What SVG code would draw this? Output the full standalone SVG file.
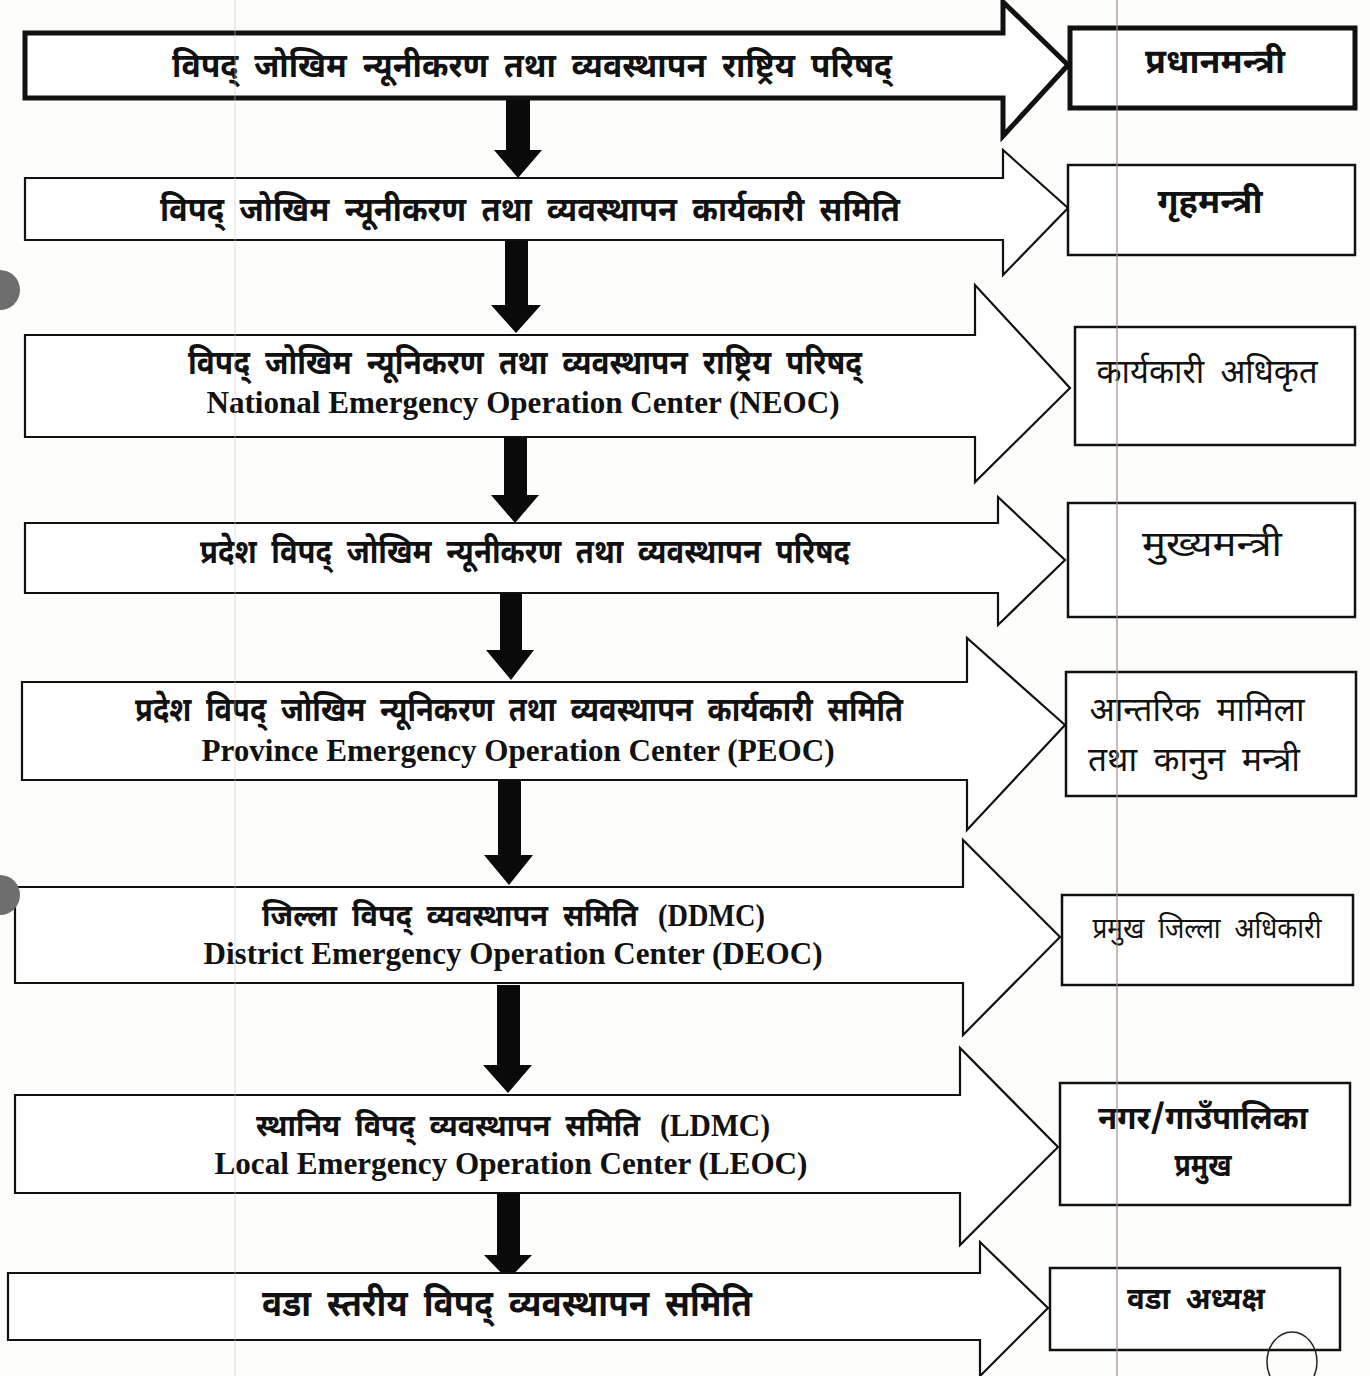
<svg xmlns="http://www.w3.org/2000/svg" width="1370" height="1376" viewBox="0 0 1370 1376">
<style>
.bg{fill:#fdfdfc}
.arr{fill:#fff;stroke:#111;stroke-width:2.2;stroke-linejoin:miter}
.arr.thick{stroke-width:5}
.box{fill:#fff;stroke:#111;stroke-width:2.5}
.box.thick{stroke-width:5}
.dv{font-family:"Noto Sans Devanagari","Noto Serif Devanagari","Lohit Devanagari","Noto Sans","Liberation Serif",serif;fill:#111;text-anchor:middle;word-spacing:8px}
.b{font-weight:bold}
.en{font-family:"Liberation Serif","Times New Roman",serif;font-weight:bold;fill:#111;text-anchor:middle;font-size:31px}
.ab{font-family:"Liberation Serif","Times New Roman",serif;font-weight:bold;fill:#111;font-size:31px}
.down{fill:#0a0a0a}
</style>
<rect class="bg" x="0" y="0" width="1370" height="1376"/>

<g id="connectors">
  <polygon class="down" points="506,98 530,98 530,150 542,150 518,178 494,150 506,150"/>
  <polygon class="down" points="505,240 528,240 528,305 541,305 516,333 491,305 505,305"/>
  <polygon class="down" points="504,437 527,437 527,495 539,495 515,523 491,495 504,495"/>
  <polygon class="down" points="500,593 522,593 522,650 534,650 511,680 486,650 500,650"/>
  <polygon class="down" points="498,780 521,780 521,855 533,855 509,885 484,855 498,855"/>
  <polygon class="down" points="497,985 520,985 520,1065 532,1065 508,1093 483,1065 497,1065"/>
  <polygon class="down" points="497,1193 520,1193 520,1255 532,1255 508,1280 484,1255 497,1255"/>
</g>

<g id="row1">
  <polygon class="arr thick" points="25,33 1003,33 1003,2 1068,65 1003,136 1003,98 25,98"/>
  <text class="dv b" x="532" y="77" font-size="34" textLength="720" lengthAdjust="spacingAndGlyphs">विपद् जोखिम न्यूनीकरण तथा व्यवस्थापन राष्ट्रिय परिषद्</text>
</g>
<g id="box1">
  <rect class="box thick" x="1070" y="28" width="285" height="80"/>
  <text class="dv b" x="1215" y="73" font-size="34" textLength="140" lengthAdjust="spacingAndGlyphs">प्रधानमन्त्री</text>
</g>

<g id="row2">
  <polygon class="arr" points="25,178 1003,178 1003,150 1068,208 1003,275 1003,240 25,240"/>
  <text class="dv b" x="530" y="221" font-size="34" textLength="740" lengthAdjust="spacingAndGlyphs">विपद् जोखिम न्यूनीकरण तथा व्यवस्थापन कार्यकारी समिति</text>
</g>
<g id="box2">
  <rect class="box" x="1068" y="165" width="287" height="90"/>
  <text class="dv b" x="1210" y="213" font-size="34" textLength="105" lengthAdjust="spacingAndGlyphs">गृहमन्त्री</text>
</g>

<g id="row3">
  <polygon class="arr" points="25,335 975,335 975,285 1070,388 975,482 975,437 25,437"/>
  <text class="dv b" x="525" y="374" font-size="33" textLength="674" lengthAdjust="spacingAndGlyphs">विपद् जोखिम न्यूनिकरण तथा व्यवस्थापन राष्ट्रिय परिषद्</text>
  <text class="en" x="523" y="413" textLength="633" lengthAdjust="spacingAndGlyphs">National Emergency Operation Center (NEOC)</text>
</g>
<g id="box3">
  <rect class="box" x="1075" y="327" width="280" height="118"/>
  <text class="dv" x="1207" y="383" font-size="34" textLength="221" lengthAdjust="spacingAndGlyphs">कार्यकारी अधिकृत</text>
</g>

<g id="row4">
  <polygon class="arr" points="25,523 998,523 998,497 1065,560 998,625 998,593 25,593"/>
  <text class="dv b" x="525" y="563" font-size="33" textLength="650" lengthAdjust="spacingAndGlyphs">प्रदेश विपद् जोखिम न्यूनीकरण तथा व्यवस्थापन परिषद</text>
</g>
<g id="box4">
  <rect class="box" x="1068" y="503" width="287" height="114"/>
  <text class="dv" x="1212" y="556" font-size="35" textLength="140" lengthAdjust="spacingAndGlyphs">मुख्यमन्त्री</text>
</g>

<g id="row5">
  <polygon class="arr" points="22,682 967,682 967,638 1065,725 967,830 967,780 22,780"/>
  <text class="dv b" x="519" y="721" font-size="33" textLength="768" lengthAdjust="spacingAndGlyphs">प्रदेश विपद् जोखिम न्यूनिकरण तथा व्यवस्थापन कार्यकारी समिति</text>
  <text class="en" x="518" y="761" textLength="633" lengthAdjust="spacingAndGlyphs">Province Emergency Operation Center (PEOC)</text>
</g>
<g id="box5">
  <rect class="box" x="1066" y="672" width="290" height="124"/>
  <text class="dv" x="1197" y="721" font-size="33" textLength="215" lengthAdjust="spacingAndGlyphs">आन्तरिक मामिला</text>
  <text class="dv" x="1194" y="771" font-size="33" textLength="212" lengthAdjust="spacingAndGlyphs">तथा कानुन मन्त्री</text>
</g>

<g id="row6">
  <polygon class="arr" points="15,887 963,887 963,840 1060,937 963,1035 963,983 15,983"/>
  <text class="dv b" x="450" y="926" font-size="31" word-spacing="4" textLength="376" lengthAdjust="spacingAndGlyphs">जिल्ला विपद् व्यवस्थापन समिति</text>
  <text class="ab" x="658" y="926" textLength="107" lengthAdjust="spacingAndGlyphs">(DDMC)</text>
  <text class="en" x="513" y="964" textLength="619" lengthAdjust="spacingAndGlyphs">District Emergency Operation Center (DEOC)</text>
</g>
<g id="box6">
  <rect class="box" x="1062" y="895" width="291" height="90"/>
  <text class="dv" x="1207" y="938" font-size="29" textLength="229" lengthAdjust="spacingAndGlyphs">प्रमुख जिल्ला अधिकारी</text>
</g>

<g id="row7">
  <polygon class="arr" points="15,1095 960,1095 960,1048 1058,1147 960,1245 960,1193 15,1193"/>
  <text class="dv b" x="448" y="1136" font-size="31" word-spacing="4" textLength="384" lengthAdjust="spacingAndGlyphs">स्थानिय विपद् व्यवस्थापन समिति</text>
  <text class="ab" x="660" y="1136" textLength="110" lengthAdjust="spacingAndGlyphs">(LDMC)</text>
  <text class="en" x="511" y="1174" textLength="593" lengthAdjust="spacingAndGlyphs">Local Emergency Operation Center (LEOC)</text>
</g>
<g id="box7">
  <rect class="box" x="1060" y="1083" width="290" height="122"/>
  <text class="dv b" x="1203" y="1129" font-size="32" textLength="210" lengthAdjust="spacingAndGlyphs">नगर/गाउँपालिका</text>
  <text class="dv b" x="1203" y="1176" font-size="32" textLength="57" lengthAdjust="spacingAndGlyphs">प्रमुख</text>
</g>

<g id="row8">
  <polygon class="arr" points="8,1273 980,1273 980,1242 1048,1308 980,1376 980,1340 8,1340"/>
  <text class="dv b" x="507" y="1316" font-size="36" textLength="490" lengthAdjust="spacingAndGlyphs">वडा स्तरीय विपद् व्यवस्थापन समिति</text>
</g>
<g id="box8">
  <rect class="box" x="1050" y="1268" width="290" height="82"/>
  <text class="dv b" x="1196" y="1309" font-size="31" textLength="138" lengthAdjust="spacingAndGlyphs">वडा अध्यक्ष</text>
</g>

<g id="scan-marks">
  <line x1="235" y1="0" x2="235" y2="1376" stroke="#c8c8c8" stroke-width="1" opacity="0.6"/>
  <line x1="1117" y1="0" x2="1117" y2="1376" stroke="#a08f84" stroke-width="1.5" opacity="0.8"/>
  <circle cx="0" cy="290" r="20" fill="#6e6e6e"/>
  <circle cx="0" cy="895" r="20" fill="#6e6e6e"/>
  <ellipse cx="1292" cy="1362" rx="25" ry="30" fill="none" stroke="#222" stroke-width="1.5"/>
</g>
</svg>
